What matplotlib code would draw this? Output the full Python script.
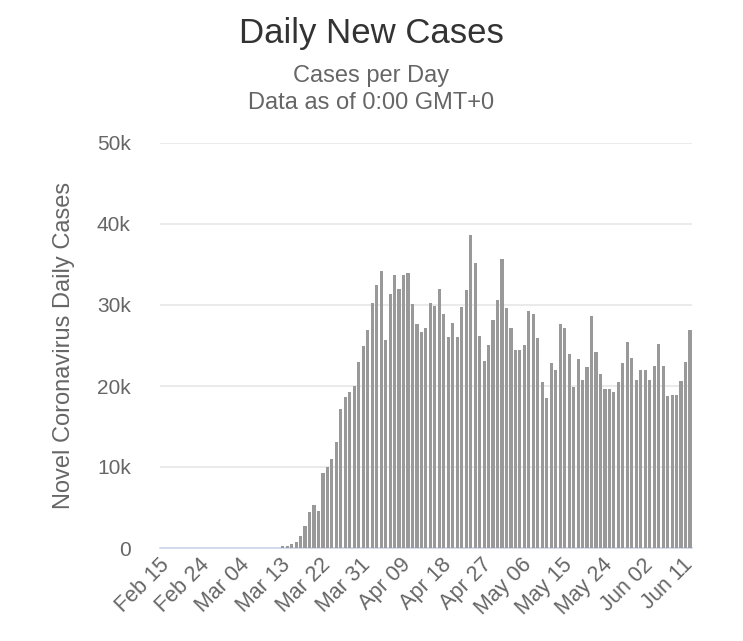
import matplotlib
matplotlib.use("Agg")
import matplotlib.pyplot as plt
import pandas as pd

plt.rcParams['font.family'] = ['Liberation Sans', 'DejaVu Sans']

# Dates Feb 15 .. Jun 11 (2020)
dates = pd.date_range("2020-02-15", "2020-06-11", freq="D")
date_labels = [d.strftime("%b %d") for d in dates]

# Daily new cases (thousands) Feb 15 .. Mar 11 (barely visible)
early_k = [0, 0, 0, 0, 0, 0, 0, 0, 0, 0, 0, 0, 0, 0, 0,
           0, 0, 0, 0, 0, 0, 0.01, 0.01, 0.02, 0.03, 0.04]
# Mar 12 .. Jun 11
main_k = [0.3, 0.3, 0.5, 0.7, 1.5, 2.7, 4.4, 5.3, 4.6, 9.3,
          10.0, 11.0, 13.1, 17.1, 18.6, 19.3, 20.0, 23.0, 24.9, 26.9,
          30.3, 32.5, 34.2, 25.7, 31.3, 33.7, 32.0, 33.7, 33.9, 30.1,
          27.7, 26.7, 27.1, 30.3, 29.9, 32.0, 28.9, 26.0, 27.8, 26.0,
          29.8, 31.8, 38.6, 35.2, 26.2, 23.1, 25.1, 28.1, 30.6, 35.7,
          29.6, 27.1, 24.5, 24.4, 25.1, 29.3, 28.9, 25.9, 20.5, 18.5,
          22.8, 22.0, 27.6, 27.1, 24.0, 19.9, 23.3, 20.8, 22.3, 28.6,
          24.2, 21.5, 19.6, 19.6, 19.2, 20.5, 22.8, 25.4, 23.5, 20.8,
          22.0, 22.0, 20.7, 22.5, 25.2, 22.5, 18.8, 18.9, 18.9, 20.6,
          23.0, 26.9]
cases = [v * 1000 for v in early_k + main_k]

y_ticks = [0, 10000, 20000, 30000, 40000, 50000]
y_tick_labels = ["0", "10k", "20k", "30k", "40k", "50k"]

fig = plt.figure(figsize=(7.43, 6.41), dpi=100)
ax = fig.add_axes([160/743, 1-548/641, 532/743, 405/641])

x = list(range(len(cases)))
ax.bar(x, cases, width=0.7, color="#999999", zorder=3, linewidth=0)

ax.set_ylim(0, 50000)
ax.set_xlim(-1.4, len(cases) - 0.55)
ax.set_yticks(y_ticks)
ax.set_yticklabels(y_tick_labels)
ax.yaxis.grid(True, color="#e6e6e6", linewidth=1.2, zorder=0)
ax.set_axisbelow(True)

tick_idx = list(range(0, len(cases), 9))
ax.set_xticks(tick_idx)
ax.set_xticklabels([date_labels[i] for i in tick_idx], rotation=45,
                   ha="right", va="center", rotation_mode="anchor")

for s in ["top", "right", "left"]:
    ax.spines[s].set_visible(False)
ax.spines["bottom"].set_color("#ccd6eb")
ax.spines["bottom"].set_linewidth(1.2)
ax.tick_params(axis="y", length=0, pad=21, labelsize=15, labelcolor="#666666")
ax.tick_params(axis="x", length=0, pad=10, labelsize=15.5, labelcolor="#666666")

ax.set_ylabel("Novel Coronavirus Daily Cases", fontsize=17, color="#666666", labelpad=16)

fig.text(0.5, 1-33/641, "Daily New Cases", ha="center", va="center",
         fontsize=25, color="#333333")
fig.text(0.5, 1-76/641, "Cases per Day", ha="center", va="center",
         fontsize=17, color="#666666")
fig.text(0.5, 1-103/641, "Data as of 0:00 GMT+0", ha="center", va="center",
         fontsize=17, color="#666666")

fig.savefig("out.png", dpi=100)
